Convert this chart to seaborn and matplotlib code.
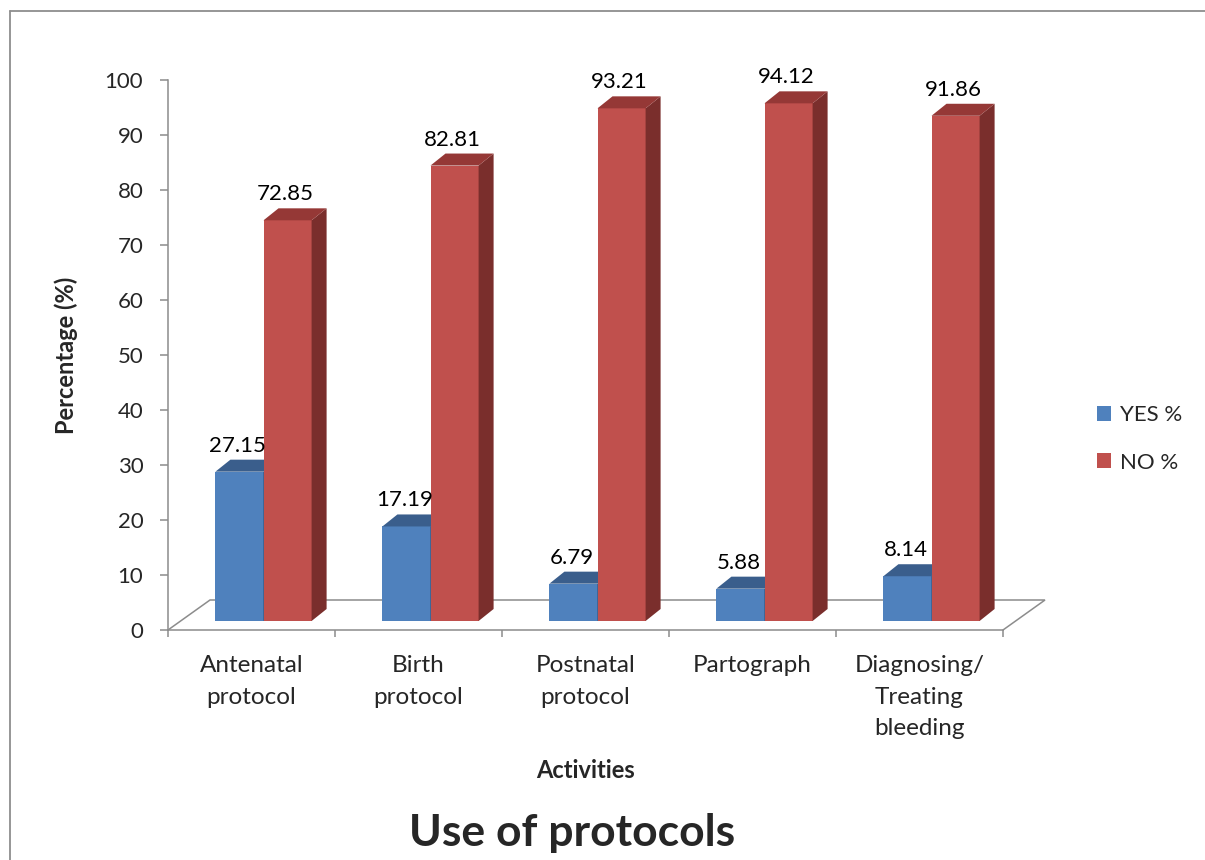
import matplotlib
matplotlib.use("Agg")
import matplotlib.pyplot as plt
import matplotlib.transforms as mtransforms
from matplotlib.patches import Polygon
from matplotlib.lines import Line2D
import pandas as pd
import seaborn as sns

# ---- data ----
categories = ["Antenatal\nprotocol", "Birth\nprotocol", "Postnatal\nprotocol",
              "Partograph", "Diagnosing/\nTreating\nbleeding"]
series_names = ["YES %", "NO %"]
yes_pct = [27.15, 17.19, 6.79, 5.88, 8.14]
no_pct = [72.85, 82.81, 93.21, 94.12, 91.86]
y_ticks = list(range(0, 101, 10))

df = pd.DataFrame({
    "Activity": categories * 2,
    "Series": [series_names[0]] * len(categories) + [series_names[1]] * len(categories),
    "Percentage": yes_pct + no_pct,
})

# ---- style ----
sns.set_style("white")
plt.rcParams["font.family"] = ["Lato", "DejaVu Sans"]

W, H, DPI = 1205, 860, 100
fig = plt.figure(figsize=(W / DPI, H / DPI), dpi=DPI)
fig.patch.set_facecolor("white")

# plot area in pixels: x 168..1003, y 80 (100%) .. 630 (0%)
AX_L, AX_R, AX_T, AX_B = 168, 1003, 80, 630
ax = fig.add_axes([AX_L / W, (H - AX_B) / H, (AX_R - AX_L) / W, (AX_B - AX_T) / H])
ax.set_facecolor("white")

front = {"YES %": "#4F81BD", "NO %": "#C0504D"}
top_c = {"YES %": "#3A5E8C", "NO %": "#953836"}
side_c = {"YES %": "#2E4D74", "NO %": "#7A2E2C"}
grey = "#8C8C8C"

sns.barplot(data=df, x="Activity", y="Percentage", hue="Series",
            order=categories, hue_order=series_names, palette=front,
            width=0.576, saturation=1, linewidth=0, ax=ax)

ax.set_xlim(-0.5, len(categories) - 0.5)
ax.set_ylim(0, 100)

px_x = (AX_R - AX_L) / len(categories)   # pixels per category
px_y = (AX_B - AX_T) / 100.0             # pixels per percent

# pseudo-3D: bars sit mid-depth on the floor, with a receding top and side
shift = mtransforms.ScaledTranslation(12 / DPI, 9 / DPI, fig.dpi_scale_trans)
bar_tr = ax.transData + shift
ddx, ddy = 15 / px_x, 12 / px_y

for k, (name, cont) in enumerate(zip(series_names, ax.containers)):
    z = 2 + k
    for bar in cont:
        x0, w, h = bar.get_x(), bar.get_width(), bar.get_height()
        bar.set_transform(bar_tr)
        bar.set_zorder(z)
        bar.set_clip_on(False)
        side = Polygon([(x0 + w, 0), (x0 + w + ddx, ddy), (x0 + w + ddx, h + ddy), (x0 + w, h)],
                       closed=True, facecolor=side_c[name], edgecolor="none",
                       transform=bar_tr, zorder=z + 0.1, clip_on=False)
        topf = Polygon([(x0, h), (x0 + w, h), (x0 + w + ddx, h + ddy), (x0 + ddx, h + ddy)],
                       closed=True, facecolor=top_c[name], edgecolor="none",
                       transform=bar_tr, zorder=z + 0.2, clip_on=False)
        ax.add_patch(side)
        ax.add_patch(topf)
        ax.text(x0 + w / 2, h, f"{h:.2f}",
                transform=bar_tr + mtransforms.ScaledTranslation(-2 / DPI, 20 / DPI, fig.dpi_scale_trans),
                ha="center", va="baseline", fontsize=16, color="black", zorder=10)

# floor outline
fdx, fdy = 42 / px_x, 30 / px_y
x_lo, x_hi = -0.5, len(categories) - 0.5
ax.plot([x_lo, x_lo + fdx, x_hi + fdx, x_hi], [0, fdy, fdy, 0],
        color=grey, lw=1.1, clip_on=False, zorder=1, solid_joinstyle="miter")

# axes, ticks
for s in ["top", "right"]:
    ax.spines[s].set_visible(False)
for s in ["left", "bottom"]:
    ax.spines[s].set_color(grey)
    ax.spines[s].set_linewidth(1.1)

ax.set_yticks(y_ticks)
ax.set_yticklabels([str(t) for t in y_ticks])
ax.tick_params(axis="y", direction="out", length=5.8, width=1.1, color=grey,
               pad=12, labelsize=16, left=True)

ax.set_xticks(range(len(categories)))
ax.set_xticklabels(categories, fontsize=17.5, linespacing=1.62, ha="center", multialignment="center")
ax.tick_params(axis="x", which="major", length=0, pad=18)
ax.set_xticks([i - 0.5 for i in range(len(categories) + 1)], minor=True)
ax.tick_params(axis="x", which="minor", direction="out", length=5, width=1.1, color=grey, bottom=True)

ax.set_ylabel("Percentage (%)", fontsize=17, fontweight="bold")
ax.yaxis.set_label_coords((78 - AX_L) / (AX_R - AX_L), 0.5)
ax.set_xlabel("Activities", fontsize=17, fontweight="bold")
ax.xaxis.label.set_va("center")
ax.xaxis.set_label_coords(0.5, (AX_B - 770) / (AX_B - AX_T))

# legend
sns.move_legend(ax, "center left", bbox_to_anchor=(1097 / W, (H - 439) / H),
                bbox_transform=fig.transFigure, frameon=False, title=None,
                fontsize=16, handlelength=0.63, handleheight=0.63,
                handletextpad=0.4, labelspacing=1.22, borderpad=0, borderaxespad=0)

# title
fig.text(572 / W, (H - 833) / H, "Use of protocols", ha="center", va="center",
         fontsize=32, fontweight="bold")

# chart-area frame (left and top edges)
fig.add_artist(Line2D([9.5 / W, 9.5 / W], [0, (H - 11) / H], transform=fig.transFigure,
                      color="#8E8E8E", lw=1.3))
fig.add_artist(Line2D([9.5 / W, 1], [(H - 11) / H, (H - 11) / H], transform=fig.transFigure,
                      color="#8E8E8E", lw=1.3))

fig.savefig("out.png", dpi=DPI, facecolor="white")
